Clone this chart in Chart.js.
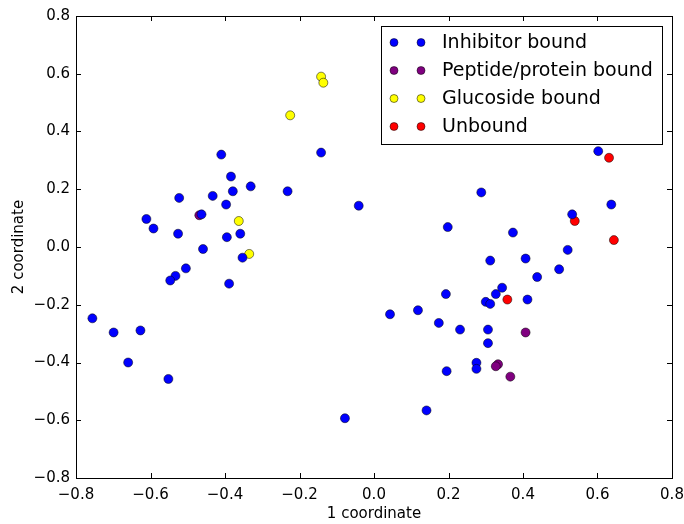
<!DOCTYPE html>
<html>
<head>
<meta charset="utf-8">
<script src="https://cdn.jsdelivr.net/npm/chart.js@4.4.0/dist/chart.umd.min.js"></script>
<style>
	html, body { margin: 0; padding: 0; background: #fff; }
	#wrap { width: 684px; height: 524px; }
</style>
</head>
<body>
<div id="wrap"><canvas id="mycanvas" width="684" height="524"></canvas></div>
<script>
// series
var inhibitorX = [-0.142, -0.410, -0.384, -0.331, -0.379, -0.232, -0.433, -0.523, -0.397, -0.041,
	-0.463, -0.611, -0.592, -0.526, -0.359, -0.395, -0.459, -0.353, -0.505, -0.533,
	-0.547, -0.389, -0.756, -0.699, -0.627, -0.660, -0.552, -0.078,
	0.602, 0.288, 0.637, 0.532, 0.198, 0.373, 0.520, 0.407, 0.312, 0.497, 0.438, 0.344,
	0.193, 0.327, 0.412, 0.300, 0.312, 0.118, 0.043, 0.174, 0.231, 0.306, 0.306, 0.275,
	0.275, 0.195, 0.141];
var inhibitorY = [0.327, 0.320, 0.244, 0.210, 0.193, 0.193, 0.177, 0.170, 0.147, 0.143,
	0.113, 0.097, 0.064, 0.046, 0.046, 0.034, -0.007, -0.037, -0.074, -0.100,
	-0.116, -0.127, -0.247, -0.296, -0.289, -0.400, -0.457, -0.593,
	0.332, 0.189, 0.147, 0.113, 0.069, 0.050, -0.010, -0.040, -0.047, -0.077, -0.104, -0.141,
	-0.163, -0.163, -0.182, -0.190, -0.197, -0.219, -0.233, -0.263, -0.286, -0.286, -0.333, -0.401,
	-0.422, -0.430, -0.566];

var peptideX = [-0.469, 0.407, 0.333, 0.327, 0.366];
var peptideY = [0.110, -0.296, -0.406, -0.413, -0.449];

var glucosideX = [-0.142, -0.136, -0.225, -0.363, -0.335];
var glucosideY = [0.590, 0.569, 0.456, 0.090, -0.024];

var unboundX = [0.631, 0.539, 0.644, 0.358];
var unboundY = [0.309, 0.090, 0.024, -0.182];

var seriesNames = ['Inhibitor bound', 'Peptide/protein bound', 'Glucoside bound', 'Unbound'];
var seriesColors = ['#0000ff', '#800080', '#ffff00', '#ff0000'];

var xTitle = '1 coordinate';
var yTitle = '2 coordinate';

function toPoints(xs, ys) {
	var pts = [];
	for (var i in xs) {
		pts.push({x: xs[i], y: ys[i]});
	}
	return pts;
}

function fmt(v) {
	if (Math.abs(v) < 1e-9) return '0.0';
	return v.toFixed(1).replace('-', '\u2212');
}

var allX = [inhibitorX, peptideX, glucosideX, unboundX];
var allY = [inhibitorY, peptideY, glucosideY, unboundY];

var datasets = [];
for (var s = 0; s < seriesNames.length; s++) {
	datasets.push({
		label: seriesNames[s],
		data: toPoints(allX[s], allY[s]),
		backgroundColor: seriesColors[s],
		borderColor: '#000',
		borderWidth: 0.5,
		pointRadius: 4.5,
		pointHoverRadius: 4.5
	});
}

// frame, inward ticks on all four sides and the boxed legend
var mplStyle = {
	id: 'mplStyle',
	afterDraw: function(chart) {
		var ctx = chart.ctx;
		var a = chart.chartArea;
		var xs = chart.scales.x;
		var ys = chart.scales.y;
		ctx.save();
		ctx.strokeStyle = '#000';
		ctx.lineWidth = 1;
		ctx.beginPath();
		xs.ticks.forEach(function(t) {
			var px = Math.round(xs.getPixelForValue(t.value)) + 0.5;
			ctx.moveTo(px, a.bottom); ctx.lineTo(px, a.bottom - 5);
			ctx.moveTo(px, a.top); ctx.lineTo(px, a.top + 5);
		});
		ys.ticks.forEach(function(t) {
			var py = Math.round(ys.getPixelForValue(t.value)) + 0.5;
			ctx.moveTo(a.left, py); ctx.lineTo(a.left + 5, py);
			ctx.moveTo(a.right, py); ctx.lineTo(a.right - 5, py);
		});
		ctx.stroke();
		ctx.strokeRect(Math.round(a.left) + 0.5, Math.round(a.top) + 0.5,
			Math.round(a.right - a.left), Math.round(a.bottom - a.top));

		// legend box
		var lx = 381, ly = 26, lw = 281, lh = 118;
		ctx.fillStyle = '#fff';
		ctx.fillRect(lx, ly, lw, lh);
		ctx.strokeRect(lx + 0.5, ly + 0.5, lw, lh);
		ctx.font = '19px "DejaVu Sans"';
		ctx.textBaseline = 'middle';
		for (var i = 0; i < seriesNames.length; i++) {
			var ry = ly + 16.5 + i * 28;
			[394, 421].forEach(function(mx) {
				ctx.beginPath();
				ctx.arc(mx, ry, 4, 0, Math.PI * 2);
				ctx.fillStyle = seriesColors[i];
				ctx.fill();
				ctx.lineWidth = 0.5;
				ctx.stroke();
			});
			ctx.fillStyle = '#000';
			ctx.fillText(seriesNames[i], 442, ry + 1);
		}
		ctx.restore();
	}
};

var ctx = document.getElementById('mycanvas');

var scatter = new Chart(ctx, {
	type: 'scatter',
	data: {datasets: datasets},
	options: {
		responsive: false,
		animation: false,
		events: [],
		layout: {padding: {left: 0, top: 16, right: 12, bottom: 0}},
		plugins: {
			legend: {display: false},
			tooltip: {enabled: false}
		},
		scales: {
			x: {
				min: -0.8, max: 0.8,
				grid: {display: false, drawTicks: false},
				border: {display: false},
				ticks: {
					stepSize: 0.2,
					color: '#000',
					padding: 8,
					maxRotation: 0,
					font: {family: 'DejaVu Sans', size: 15},
					callback: function(v) { return fmt(v); }
				},
				title: {
					display: true, text: xTitle, color: '#000',
					font: {family: 'DejaVu Sans', size: 15},
					padding: {top: 0, bottom: 1}
				},
				afterFit: function(scale) {
					scale.height = 46;
					scale.paddingLeft = 0;
					scale.paddingRight = 0;
				}
			},
			y: {
				min: -0.8, max: 0.8,
				grid: {display: false, drawTicks: false},
				border: {display: false},
				ticks: {
					stepSize: 0.2,
					color: '#000',
					padding: 6,
					font: {family: 'DejaVu Sans', size: 15},
					callback: function(v) { return fmt(v); }
				},
				title: {
					display: true, text: yTitle, color: '#000',
					font: {family: 'DejaVu Sans', size: 15},
					padding: {top: 10, bottom: 4}
				},
				afterFit: function(scale) {
					scale.width = 76;
					scale.paddingTop = 0;
					scale.paddingBottom = 0;
				}
			}
		}
	},
	plugins: [mplStyle]
});
</script>
</body>
</html>
